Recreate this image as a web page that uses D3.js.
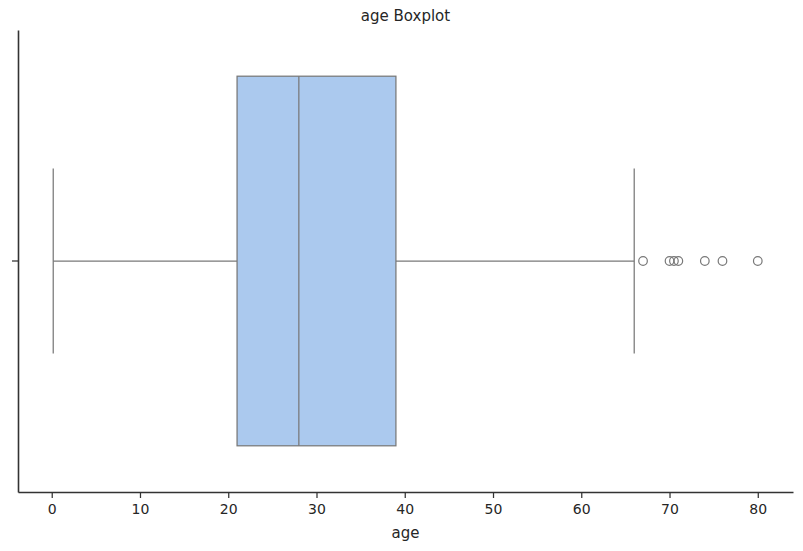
<!DOCTYPE html>
<html><head><meta charset="utf-8">
<script src="https://cdn.jsdelivr.net/npm/d3@7"></script>
<style>body{margin:0;background:#fff}svg{display:block}</style>
</head><body><svg id="c" width="803" height="551"></svg>
<script>
const categories = ["age"];
const boxStats = [{min: 0.17, q1: 21, median: 28, q3: 39, max: 66}];
const outliers = [67, 70, 70.5, 71, 74, 76, 80];
const xTicks = [0, 10, 20, 30, 40, 50, 60, 70, 80];
const title = "age Boxplot";
const xLabel = "age";

const svg = d3.select("#c");
const m = {l: 18, r: 10, t: 30, b: 59};
const W = 803, H = 551;
const span = 80 - 0.17;
const x = d3.scaleLinear().domain([0.17 - span*0.05, 80 + span*0.05]).range([m.l, W - m.r]);
const y = d3.scaleBand().domain(categories).range([m.t, H - m.b]).padding(0);
const edge = "#787878";
const FONT = "DejaVu Sans, sans-serif";

const g = svg.append("g");
const s = boxStats[0];
const cy = y(categories[0]) + y.bandwidth()/2;
const bw = y.bandwidth()*0.8;
g.append("line").attr("x1", x(s.min)).attr("x2", x(s.q1)).attr("y1", cy).attr("y2", cy).attr("stroke", edge).attr("stroke-width", 1.25);
g.append("line").attr("x1", x(s.q3)).attr("x2", x(s.max)).attr("y1", cy).attr("y2", cy).attr("stroke", edge).attr("stroke-width", 1.25);
[s.min, s.max].forEach(v => g.append("line").attr("x1", x(v)).attr("x2", x(v)).attr("y1", cy - bw/4).attr("y2", cy + bw/4).attr("stroke", edge).attr("stroke-width", 1.25));
g.append("rect").attr("x", x(s.q1)).attr("y", cy - bw/2).attr("width", x(s.q3) - x(s.q1)).attr("height", bw)
  .attr("fill", "#abc9ee").attr("stroke", edge).attr("stroke-width", 1.25);
g.append("line").attr("x1", x(s.median)).attr("x2", x(s.median)).attr("y1", cy - bw/2).attr("y2", cy + bw/2).attr("stroke", edge).attr("stroke-width", 1.25);
g.selectAll("circle.o").data(outliers).join("circle").attr("class", "o")
  .attr("cx", d => x(d)).attr("cy", cy).attr("r", 4.3).attr("fill", "none").attr("stroke", edge).attr("stroke-width", 1.2);

const xa = svg.append("g").attr("transform", `translate(0,${H - m.b})`)
  .call(d3.axisBottom(x).tickValues(xTicks).tickSize(6).tickSizeOuter(0).tickPadding(6).tickFormat(d3.format("d")));
xa.attr("font-size", 14).attr("font-family", FONT);
xa.select(".domain").attr("stroke", "#333").attr("stroke-width", 1.6);
xa.selectAll(".tick line").attr("stroke", "#333").attr("stroke-width", 1.25);
xa.selectAll(".tick text").attr("fill", "#262626");

const ya = svg.append("g").attr("transform", `translate(${m.l},0)`)
  .call(d3.axisLeft(y).tickSize(6).tickSizeOuter(0).tickFormat(""));
ya.select(".domain").attr("stroke", "#333").attr("stroke-width", 1.6);
ya.selectAll(".tick line").attr("stroke", "#333").attr("stroke-width", 1.25);

svg.append("text").attr("x", (m.l + W - m.r)/2).attr("y", 21).attr("text-anchor", "middle")
  .attr("font-family", FONT).attr("font-size", 15).attr("fill", "#262626").text(title);
svg.append("text").attr("x", (m.l + W - m.r)/2).attr("y", 538).attr("text-anchor", "middle")
  .attr("font-family", FONT).attr("font-size", 15).attr("fill", "#262626").text(xLabel);
</script></body></html>
